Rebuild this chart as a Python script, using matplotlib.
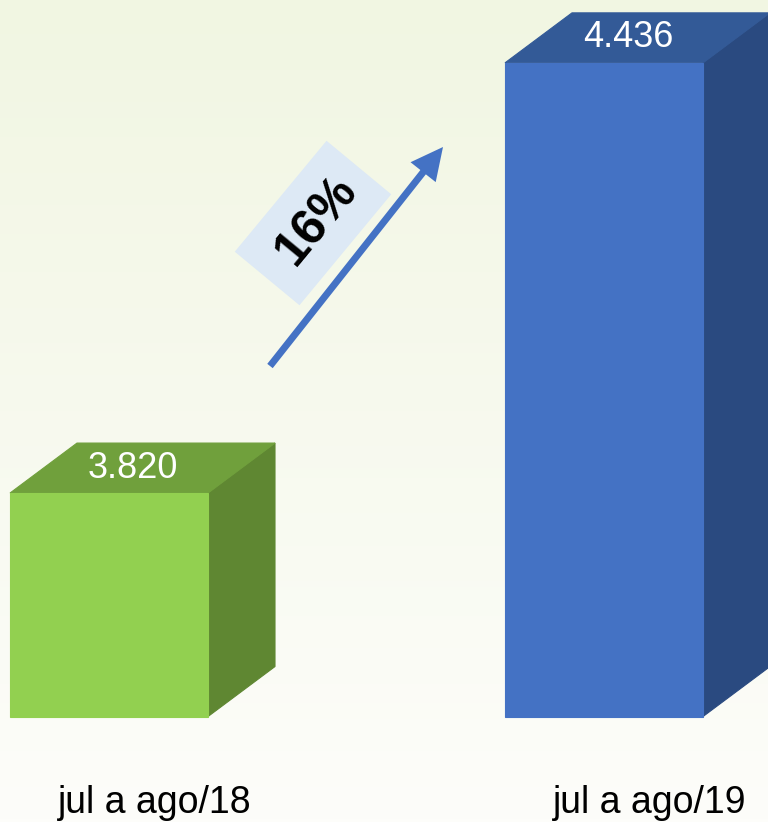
import numpy as np
import matplotlib
matplotlib.use('Agg')
import matplotlib.pyplot as plt
from matplotlib.patches import Polygon, Rectangle, FancyArrowPatch
from matplotlib.colors import LinearSegmentedColormap
import matplotlib.transforms as mtransforms

plt.rcParams['font.family'] = ['Liberation Sans', 'DejaVu Sans']

# ------------------- 数据 -------------------
categories = ['jul a ago/18', 'jul a ago/19']
values = [3820, 4436]
value_labels = ['3.820', '4.436']
growth_label = '16%'

front_colors = ['#92d050', '#4472c4']
top_colors = ['#70a03c', '#335a97']
side_colors = ['#5f8732', '#2a4a80']

base = 3500
ylim = (3349, 4526)
xlim = (-0.2202, 1.3313)
bar_w = 0.4
W, H = 768, 822
depth_px = (67, 50)

fig = plt.figure(figsize=(W / 100, H / 100), dpi=100)

# 背景渐变
bg = fig.add_axes([0, 0, 1, 1], zorder=0)
bg_cmap = LinearSegmentedColormap.from_list('bg', ['#fdfdfa', '#f1f6e2'])
bg.imshow(np.linspace(0, 1, 256).reshape(-1, 1), cmap=bg_cmap, aspect='auto',
          origin='lower', extent=[0, 1, 0, 1])
bg.set_axis_off()

ax = fig.add_axes([0, 0, 1, 1], zorder=1)
ax.patch.set_alpha(0)
ax.set_xlim(*xlim)
ax.set_ylim(*ylim)
ax.set_axis_off()

dx = depth_px[0] * (xlim[1] - xlim[0]) / W
dy = depth_px[1] * (ylim[1] - ylim[0]) / H

for i, v in enumerate(values):
    x0, x1 = i - bar_w / 2, i + bar_w / 2
    front = [(x0, base), (x1, base), (x1, v), (x0, v)]
    top = [(x0, v), (x1, v), (x1 + dx, v + dy), (x0 + dx, v + dy)]
    side = [(x1, base), (x1 + dx, base + dy), (x1 + dx, v + dy), (x1, v)]
    ax.add_patch(Polygon(side, closed=True, fc=side_colors[i], ec=side_colors[i], lw=0.8))
    ax.add_patch(Polygon(top, closed=True, fc=top_colors[i], ec=top_colors[i], lw=0.8))
    ax.add_patch(Polygon(front, closed=True, fc=front_colors[i], ec=front_colors[i], lw=0.8))

    lbl_tr = ax.transData + mtransforms.ScaledTranslation(0.24, 0.25, fig.dpi_scale_trans)
    ax.text(i, v, value_labels[i], transform=lbl_tr, ha='center', va='center',
            color='white', fontsize=26)

    cat_tr = mtransforms.blended_transform_factory(ax.transData, ax.transAxes) + \
        mtransforms.ScaledTranslation(0.46, 0, fig.dpi_scale_trans)
    ax.text(i, 9 / H, categories[i], transform=cat_tr, ha='center', va='baseline',
            color='black', fontsize=27)

# 增长箭头
arrow = FancyArrowPatch((270 / W, 1 - 366 / H), (443 / W, 1 - 147 / H),
                        transform=fig.transFigure, arrowstyle='-|>,head_length=15,head_width=7.5',
                        mutation_scale=1, color='#4472c4', lw=5, shrinkA=0, shrinkB=0,
                        capstyle='butt', joinstyle='miter')
fig.add_artist(arrow)

cx, cy = 313, H - 223
box = Rectangle(((cx - 72) / 100, (cy - 42) / 100), 1.44, 0.84, angle=50.4,
                rotation_point='center', transform=fig.dpi_scale_trans,
                fc='#dde9f5', ec='none')
fig.add_artist(box)
fig.text(317 / W, 1 - 220 / H, growth_label, rotation=50.4, rotation_mode='anchor',
         ha='center', va='center', fontsize=36, fontweight='bold', color='black')

fig.savefig('out.png', dpi=100)
